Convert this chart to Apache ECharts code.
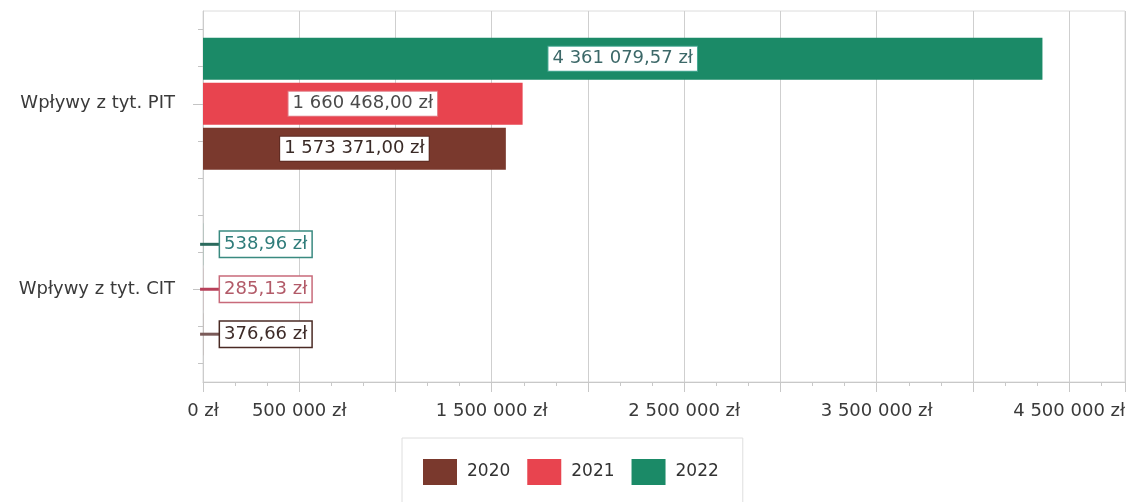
<!DOCTYPE html>
<html>
<head>
<meta charset="utf-8">
<title>Wpływy z tyt. PIT i CIT</title>
<script src="https://cdn.jsdelivr.net/npm/echarts@6/dist/echarts.min.js"></script>
<style>
  html, body { margin: 0; padding: 0; background: #ffffff; }
  #chart { width: 1129px; height: 502px; }
</style>
</head>
<body>
<div id="chart"></div>
<script>
// Categories (bottom to top on the vertical axis) and yearly values in zł
const categories = ['Wpływy z tyt. CIT', 'Wpływy z tyt. PIT'];
const years = ['2020', '2021', '2022'];
const values2020 = [376.66, 1573371.00];
const values2021 = [285.13, 1660468.00];
const values2022 = [538.96, 4361079.57];
// Value-axis ticks that carry a visible label
const axisTickLabels = [0, 500000, 1500000, 2500000, 3500000, 4500000];
// Small ticks along the category axis (five per category band)
const categoryMinorSlots = ['', '', '', '', '', '', '', '', '', ''];

const FONT = 'DejaVu Sans';

const seriesStyles = [
  { color: '#7a392d', border: '#5c2a22', text: '#3a2a26', smallText: '#3d2b28', smallBorder: '#4a2a24', line: '#7a5a58' },
  { color: '#e8444f', border: '#e27a84', text: '#4a4a4a', smallText: '#b25a68', smallBorder: '#c86a7a', line: '#b8405a' },
  { color: '#1b8a67', border: '#4aa995', text: '#3c6868', smallText: '#2f7c7a', smallBorder: '#3a8a80', line: '#2a6a5c' }
];

function formatZl(v, decimals) {
  const parts = v.toFixed(decimals).split('.');
  const whole = parts[0].replace(/\B(?=(\d{3})+(?!\d))/g, ' ');
  return whole + (decimals ? ',' + parts[1] : '') + ' zł';
}

// Large values get a boxed label centred in the bar; tiny bars get a short
// leader line followed by a boxed label to the right.
function buildData(values, st) {
  return values.map(function (v) {
    if (v > 100000) {
      return {
        value: v,
        label: {
          show: true,
          position: 'inside',
          formatter: formatZl(v, 2),
          color: st.text,
          fontFamily: FONT,
          fontSize: 18,
          backgroundColor: '#ffffff',
          borderColor: st.border,
          borderWidth: 1,
          padding: [3, 4, 3, 4],
          textBorderWidth: 0
        }
      };
    }
    return {
      value: v,
      label: {
        show: true,
        position: 'right',
        distance: -3,
        formatter: '{l| }{b|' + formatZl(v, 2) + '}',
        textBorderWidth: 0,
        rich: {
          l: { width: 20, height: 3, backgroundColor: st.line },
          b: {
            color: st.smallText,
            fontFamily: FONT,
            fontSize: 18,
            backgroundColor: '#ffffff',
            borderColor: st.smallBorder,
            borderWidth: 1.5,
            padding: [4, 4, 3, 4]
          }
        }
      }
    };
  });
}

const seriesValues = [values2020, values2021, values2022];
// Bars within a group are stacked top-down in series order, so the latest year goes first
const seriesOrder = [2, 1, 0];

const chart = echarts.init(document.getElementById('chart'), null, { renderer: 'canvas' });

chart.setOption({
  animation: false,
  backgroundColor: '#ffffff',
  grid: {
    left: 203,
    right: 4,
    top: 11,
    bottom: 120,
    show: true,
    borderColor: '#dcdcdc',
    borderWidth: 1,
    backgroundColor: 'transparent'
  },
  legend: {
    data: years,
    top: 438,
    left: 402,
    padding: [21, 24, 21, 21],
    borderColor: '#dedede',
    borderWidth: 1,
    itemWidth: 34,
    itemHeight: 26,
    itemGap: 17,
    icon: 'rect',
    textStyle: { fontFamily: FONT, fontSize: 17, color: '#333333', padding: [0, 0, 0, 5] }
  },
  xAxis: {
    type: 'value',
    min: 0,
    max: 4790000,
    interval: 500000,
    axisLine: { show: true, lineStyle: { color: '#c8c8c8' } },
    axisTick: { show: true, length: 10, lineStyle: { color: '#c8c8c8' } },
    minorTick: { show: true, splitNumber: 3, length: 4, lineStyle: { color: '#c8c8c8' } },
    splitLine: { show: true, lineStyle: { color: '#cfcfcf' } },
    axisLabel: {
      margin: 20,
      fontFamily: FONT,
      fontSize: 18,
      color: '#3a3a3a',
      showMaxLabel: false,
      hideOverlap: false,
      formatter: function (v) {
        return axisTickLabels.indexOf(v) >= 0 ? formatZl(v, 0) : '';
      }
    }
  },
  yAxis: [
    {
      type: 'category',
      data: categories,
      axisLine: { show: true, lineStyle: { color: '#cccccc' } },
      axisTick: { show: true, alignWithLabel: true, length: 10, lineStyle: { color: '#c4c4c4' } },
      axisLabel: { margin: 28, fontFamily: FONT, fontSize: 18, color: '#3a3a3a' },
      splitLine: { show: false }
    },
    {
      type: 'category',
      data: categoryMinorSlots,
      position: 'left',
      axisLine: { show: false },
      axisTick: { show: true, alignWithLabel: true, length: 5, lineStyle: { color: '#c4c4c4' } },
      axisLabel: { show: false },
      splitLine: { show: false }
    }
  ],
  series: seriesOrder.map(function (i) {
    const st = seriesStyles[i];
    return {
      name: years[i],
      type: 'bar',
      yAxisIndex: 0,
      barWidth: 42,
      barGap: '7%',
      itemStyle: { color: st.color },
      data: buildData(seriesValues[i], st)
    };
  })
});
</script>
</body>
</html>
